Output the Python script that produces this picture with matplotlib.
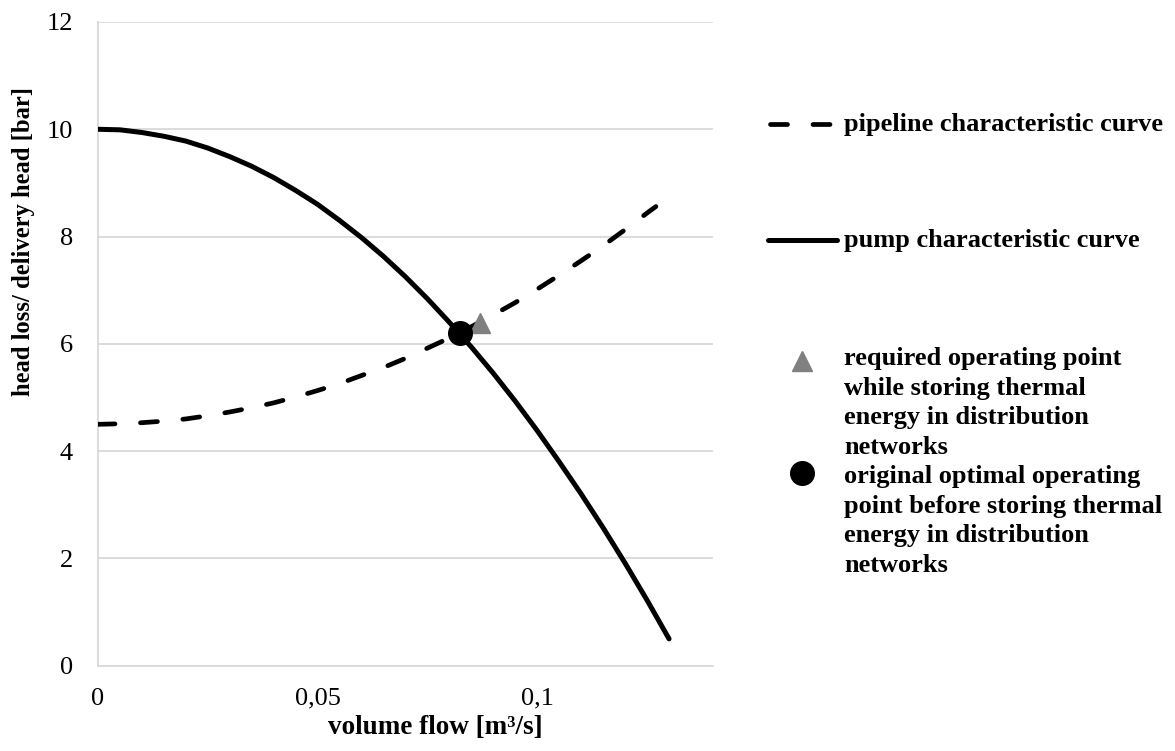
import matplotlib
matplotlib.use("Agg")
import matplotlib.pyplot as plt
from matplotlib.lines import Line2D

# ---- data ----
flow = [0.0, 0.005, 0.01, 0.015, 0.02, 0.025, 0.03, 0.035, 0.04, 0.045, 0.05, 0.055,
        0.06, 0.065, 0.07, 0.075, 0.08, 0.085, 0.09, 0.095, 0.10, 0.105, 0.11, 0.115,
        0.12, 0.125, 0.13]
pump_head = [10.00, 9.99, 9.94, 9.87, 9.78, 9.65, 9.49, 9.31, 9.10, 8.86, 8.60, 8.30,
             7.98, 7.63, 7.25, 6.84, 6.40, 5.94, 5.45, 4.93, 4.38, 3.80, 3.20, 2.57,
             1.91, 1.22, 0.50]

pipe_flow = [0.0, 0.005, 0.01, 0.015, 0.02, 0.025, 0.03, 0.035, 0.04, 0.045, 0.05, 0.055,
             0.06, 0.065, 0.07, 0.075, 0.08, 0.085, 0.09, 0.095, 0.10, 0.105, 0.11, 0.115,
             0.12, 0.125, 0.127]
pipe_head = [4.50, 4.51, 4.53, 4.56, 4.60, 4.66, 4.73, 4.81, 4.90, 5.01, 5.13, 5.26,
             5.41, 5.56, 5.73, 5.92, 6.11, 6.32, 6.54, 6.77, 7.02, 7.28, 7.55, 7.83,
             8.13, 8.44, 8.56]

required_point = (0.087, 6.38)
original_point = (0.0825, 6.2)

x_ticks = [0, 0.05, 0.1]
x_tick_labels = ["0", "0,05", "0,1"]
y_ticks = [0, 2, 4, 6, 8, 10, 12]

W, H = 1175, 751
fig = plt.figure(figsize=(W / 100, H / 100), dpi=100)

def fx(x):
    return x / W

def fy(y):
    return 1 - y / H

ax = fig.add_axes([fx(98), fy(665.7), fx(713) - fx(98), fy(22) - fy(665.7)])

grid_c = "#d9d9d9"
serif = ["Liberation Serif", "DejaVu Serif"]
dash = (0, (3.6, 5.4))

ax.plot(pipe_flow, pipe_head, color="black", lw=3.4, linestyle=dash,
        dash_capstyle="round", solid_capstyle="round", zorder=3)
ax.plot(flow, pump_head, color="black", lw=3.6, solid_capstyle="round",
        solid_joinstyle="round", zorder=3)
ax.plot([required_point[0]], [required_point[1]], marker="^", color="#808080",
        markersize=15, linestyle="none", zorder=4)
ax.plot([original_point[0]], [original_point[1]], marker="o", color="black",
        markersize=17, linestyle="none", zorder=5)

ax.set_xlim(0, 0.14)
ax.set_ylim(0, 12)
ax.set_xticks(x_ticks)
ax.set_xticklabels(x_tick_labels)
ax.set_yticks(y_ticks)
ax.yaxis.grid(True, color=grid_c, lw=1.3)
ax.set_axisbelow(True)
for s in ["top", "right"]:
    ax.spines[s].set_visible(False)
for s in ["left", "bottom"]:
    ax.spines[s].set_color(grid_c)
    ax.spines[s].set_linewidth(1.3)
ax.tick_params(length=0, labelsize=19, colors="black")
ax.tick_params(axis="y", pad=18)
ax.tick_params(axis="x", pad=16)
for lab in ax.get_xticklabels() + ax.get_yticklabels():
    lab.set_family(serif)

# axis titles
fig.text(fx(435), fy(727), "volume flow [m³/s]", ha="center", va="center",
         fontsize=19.5, fontweight="bold", family=serif)
fig.text(fx(24), fy(241), "head loss/ delivery head [bar]", ha="center", va="center",
         rotation=90, fontsize=17.7, fontweight="bold", family=serif)

# legend (manual, to match layout)
fig.add_artist(Line2D([fx(770), fx(830)], [fy(124), fy(124)], color="black", lw=3.4,
                      linestyle=dash, dash_capstyle="round",
                      transform=fig.transFigure))
fig.add_artist(Line2D([fx(768), fx(837)], [fy(240), fy(240)], color="black", lw=3.6,
                      solid_capstyle="round", transform=fig.transFigure))
fig.add_artist(Line2D([fx(802)], [fy(361)], marker="^", color="#808080", markersize=15,
                      linestyle="none", transform=fig.transFigure))
fig.add_artist(Line2D([fx(802)], [fy(473)], marker="o", color="black", markersize=17,
                      linestyle="none", transform=fig.transFigure))

leg_kw = dict(ha="left", va="center", fontsize=19, fontweight="bold", family=serif,
              linespacing=1.38)
fig.text(fx(844), fy(124), "pipeline characteristic curve", **leg_kw)
fig.text(fx(844), fy(241), "pump characteristic curve", **leg_kw)
fig.text(fx(844), fy(403),
         "required operating point\nwhile storing thermal\nenergy in distribution\nnetworks",
         **leg_kw)
fig.text(fx(844), fy(521),
         "original optimal operating\npoint before storing thermal\nenergy in distribution\nnetworks",
         **leg_kw)

fig.savefig("out.png", dpi=100)
